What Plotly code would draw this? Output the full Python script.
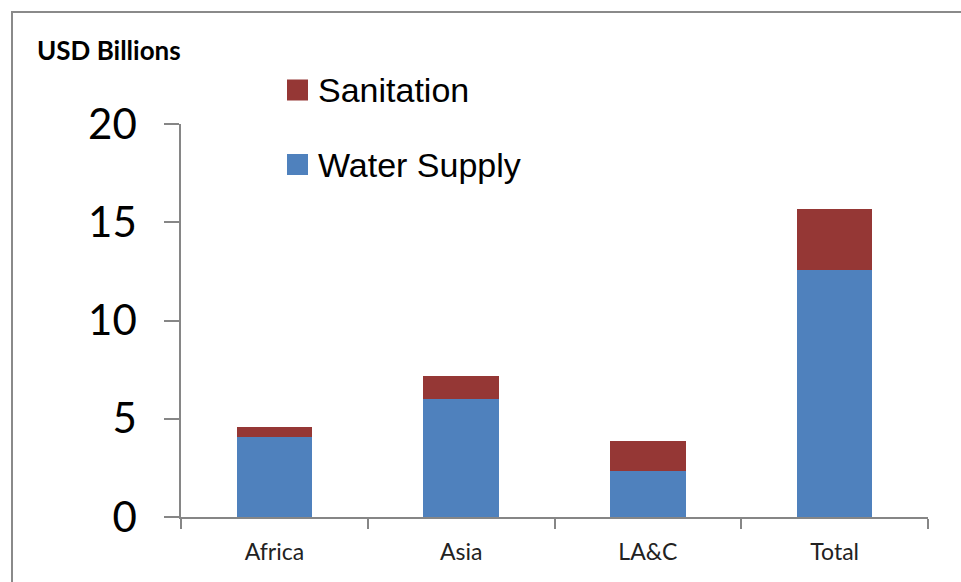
import plotly.graph_objects as go

categories = ["Africa", "Asia", "LA&C", "Total"]
water_supply = [4.06, 6.01, 2.36, 12.57]
sanitation = [0.53, 1.16, 1.51, 3.13]
y_ticks = [0, 5, 10, 15, 20]

W, H = 961, 582
ML, MR, MT, MB = 181, 33, 124, 65
PW, PH = W - ML - MR, H - MT - MB


def px(x):
    return (x - ML) / PW


def py(y):
    return (H - MB - y) / PH


BLUE = "#4F81BD"
RED = "#953735"
GRID = "#868686"

fig = go.Figure()
fig.add_trace(go.Bar(x=categories, y=water_supply, name="Water Supply",
                     marker=dict(color=BLUE, line=dict(width=0)), showlegend=False))
fig.add_trace(go.Bar(x=categories, y=sanitation, name="Sanitation",
                     marker=dict(color=RED, line=dict(width=0)), showlegend=False))

fig.update_layout(
    width=W, height=H,
    margin=dict(l=ML, r=MR, t=MT, b=MB, pad=0),
    barmode="stack", bargap=0.595,
    plot_bgcolor="white", paper_bgcolor="white",
    showlegend=False,
    font=dict(family="Lato", color="black"),
)
fig.update_xaxes(
    showline=True, linecolor=GRID, linewidth=1.5,
    ticks="outside", tickson="boundaries", ticklen=10, tickcolor=GRID, tickwidth=1.5,
    tickfont=dict(family="Lato", size=23, color="#222"),
    ticklabelstandoff=14,
    showgrid=False, zeroline=False,
)
fig.update_yaxes(
    range=[0, 20], tickvals=y_ticks,
    showline=True, linecolor=GRID, linewidth=1.5,
    ticks="outside", ticklen=15, tickcolor=GRID, tickwidth=1.5,
    tickfont=dict(family="Lato", size=42, color="black"),
    ticklabelstandoff=19,
    showgrid=False, zeroline=False,
)

# chart border
fig.add_shape(type="rect", xref="paper", yref="paper",
              x0=px(12), x1=px(1000), y0=py(12), y1=py(640),
              line=dict(color="#8A8A8A", width=2), fillcolor="rgba(0,0,0,0)", layer="below")

# axis unit title
fig.add_annotation(text="<b>USD Billions</b>", xref="paper", yref="paper",
                   x=px(35), y=py(50), xanchor="left", yanchor="middle",
                   showarrow=False, font=dict(family="Lato", size=26, color="black"))

# legend
legend_items = [("Sanitation", RED, 90), ("Water Supply", BLUE, 164.5)]
for label, color, cy in legend_items:
    fig.add_shape(type="rect", xref="paper", yref="paper",
                  x0=px(287), x1=px(308), y0=py(cy - 10.5), y1=py(cy + 10.5),
                  line=dict(width=0), fillcolor=color)
    fig.add_annotation(text=label, xref="paper", yref="paper",
                       x=px(316), y=py(cy), xanchor="left", yanchor="middle",
                       showarrow=False,
                       font=dict(family="Liberation Sans", size=34, color="black"))

fig.write_html(
    "out.html",
    config={"displayModeBar": False},
    post_script="document.body.style.margin='0';document.body.style.overflow='hidden';",
)
